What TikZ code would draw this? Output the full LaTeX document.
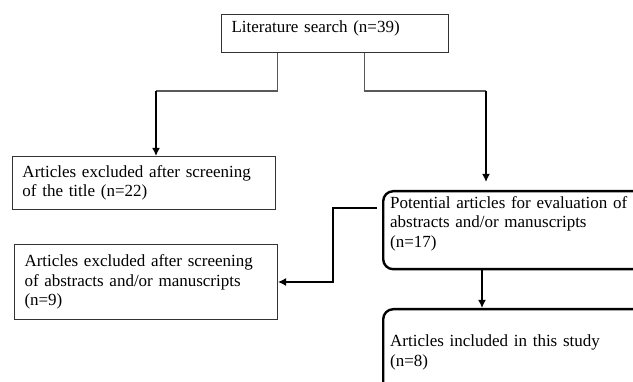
\documentclass[tikz,border=0pt]{standalone}
\usepackage{fontspec}
\setmainfont{Liberation Serif}
\usetikzlibrary{arrows.meta}
\tikzset{
  excluded/.style={draw=black!80, line width=1pt, anchor=north west, align=left, inner xsep=10pt},
  retained/.style={draw=black, line width=2.4pt, rounded corners=10pt, anchor=north west, align=left, inner xsep=7pt, inner ysep=2pt},
  link/.style={draw=black!65, line width=1.2pt},
  arrow/.style={draw=black, line width=2pt, -{Latex[length=8pt,width=8pt]}},
}
\begin{document}
\begin{tikzpicture}
      [x=1pt, y=-1pt, every node/.style={font=\fontsize{17}{19.5}\selectfont}]
      \useasboundingbox (0,0) rectangle (633,382);
      \clip (0,0) rectangle (633,382);
      \node (search) [excluded, text width=207pt, minimum height=38pt, text depth=14pt] at (221,14) {Literature search (n=39)};
      \node (title) [excluded, text width=243pt, minimum height=53pt] at (12,156) {Articles excluded after screening\\of the title (n=22)};
      \node (abstracts) [excluded, text width=243pt, minimum height=75pt] at (14,244) {Articles excluded after screening\\of abstracts and/or manuscripts\\(n=9)};
      \node (potential) [retained, text width=320pt, minimum height=78pt, text depth=56pt] at (382,190) {Potential articles for evaluation of\\abstracts and/or manuscripts\\(n=17)};
      \node (study) [retained, text width=320pt, minimum height=86pt] at (382,308) {Articles included in this study\\(n=8)};
      \coordinate (forkL) at (156,91);
      \coordinate (forkR) at (486,91);
      \draw[link] ([xshift=-57.5pt]search.south) |- (forkL);
      \draw[link] ([xshift=29.5pt]search.south) |- (forkR);
      \draw[arrow] (forkL) -- (forkL |- title.north);
      \draw[arrow, shorten >=8pt] (forkR) -- (forkR |- potential.north);
      \draw[arrow, line width=1.4pt] ([xshift=-5pt,yshift=22pt]potential.west) -| ([xshift=55pt]abstracts.east) -- (abstracts.east);
      \draw[arrow] ([xshift=100pt]potential.south west) -- ([xshift=100pt]study.north west);
    \end{tikzpicture}
\end{document}
